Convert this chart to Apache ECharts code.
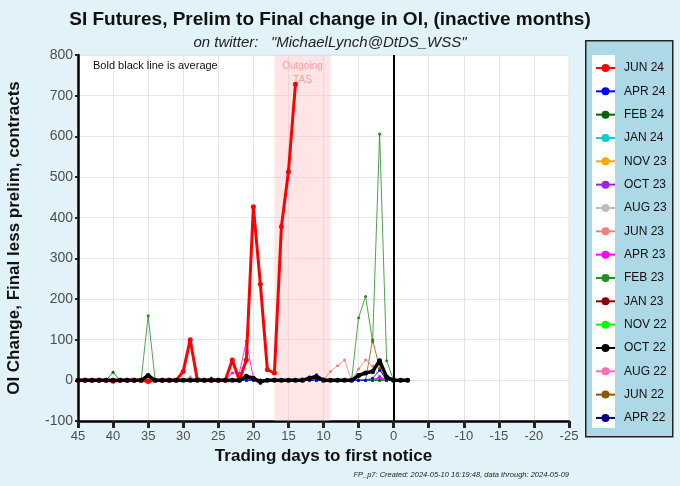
<!DOCTYPE html>
<html>
<head>
<meta charset="utf-8">
<script src="https://cdn.jsdelivr.net/npm/echarts@6/dist/echarts.min.js"></script>
<style>
html,body{margin:0;padding:0;background:#e1f3f8;}
#chart{width:680px;height:486px;}
</style>
</head>
<body>
<div id="chart"></div>
<script>
// Trading days to first notice (x categories)
var days = [45,44,43,42,41,40,39,38,37,36,35,34,33,32,31,30,29,28,27,26,25,24,23,22,21,20,19,18,17,16,15,14,13,12,11,10,9,8,7,6,5,4,3,2,1,0,-1,-2];

// Series values (aligned with days; JUN 24 ends at day 14)
var jun24 = [0,0,0,0,0, -2,0,0,0,0, -3,0,0,0,0, 22,100,2,0,0, 0,0,50,0,50, 427,236,26,18,378, 513,728];
var apr24 = [0,0,0,0,0, 0,0,0,0,0, 0,0,0,0,0, 0,0,0,0,0, 0,0,0,0,0, 0,0,0,0,0, 0,0,0,0,0, 0,0,0,0,0, 0,0,5,25,0, 0,0,0];
var feb24 = [0,0,0,0,0, 20,0,0,0,0, 0,0,0,0,0, 0,0,0,0,6, 0,0,0,0,0, 0,0,0,0,0, 0,0,0,0,0, 0,0,0,0,0, 0,0,0,0,0, 0,0,0];
var jan24 = [0,0,0,0,0, 0,0,0,0,0, 0,0,0,0,0, 0,0,0,0,0, 0,0,0,0,0, 0,0,0,0,0, 0,0,0,3,0, 0,0,0,0,0, 0,0,0,0,0, 0,0,0];
var nov23 = [0,0,0,0,0, 0,0,0,0,0, 0,0,0,0,0, 0,0,0,0,0, 0,0,0,0,0, 0,0,0,0,0, 0,0,0,0,0, 0,0,0,0,0, 0,0,5,0,0, 0,0,0];
var oct23 = [0,0,0,0,0, 0,0,0,0,0, 0,0,0,0,0, 0,0,0,0,0, 0,0,0,0,0, 0,0,0,0,0, 0,0,0,0,0, 0,0,0,0,0, 0,0,0,8,0, 0,0,0];
var aug23 = [0,0,0,0,0, 0,0,0,0,0, 0,0,0,0,0, 0,0,0,0,0, 0,0,0,0,0, 0,0,0,0,0, 0,0,0,0,0, 4,0,0,0,0, 0,0,0,0,0, 0,0,0];
var jun23 = [0,0,0,0,0, 0,0,0,0,0, 0,0,0,0,0, 0,8,0,0,0, 0,0,0,0,0, 0,0,0,0,0, 0,0,0,0,0, 0,22,36,50,0, 28,50,35,10,0, 0,0,0];
var apr23 = [0,0,0,0,0, 0,0,0,0,0, 0,0,0,0,0, 0,0,0,0,0, 0,0,18,18,96, 5,0,0,3,0, 0,0,0,0,0, 0,0,0,0,0, 0,0,0,3,0, 0,0,0];
var feb23 = [0,0,0,0,0, 0,0,0,0,0, 159,0,0,0,0, 0,0,0,0,0, 0,0,0,0,0, 0,0,0,0,0, 0,0,0,0,0, 0,0,0,0,0, 154,206,95,606,48, 0,0,0];
var jan23 = [0,0,0,0,0, 0,0,0,0,0, 0,0,0,0,0, 0,0,0,0,0, 0,0,0,0,0, 0,-8,0,0,0, 0,0,0,0,0, 0,0,0,0,0, 0,0,0,0,0, 0,0,0];
var nov22 = [0,0,0,0,0, 0,0,0,0,0, 0,0,0,0,0, 0,0,0,0,0, 0,0,0,0,0, 0,0,0,0,0, 0,0,0,0,0, 0,0,0,0,0, 0,0,0,0,0, 0,0,0];
var oct22 = [0,0,0,0,0, 0,0,0,0,0, 0,0,0,0,0, 0,0,0,0,0, 0,0,0,0,5, 0,0,0,0,0, 0,0,0,0,0, 0,0,0,0,0, 0,0,0,0,0, 0,0,0];
var aug22 = [0,0,0,0,0, 0,0,0,0,0, 0,0,0,0,0, 0,0,0,0,0, 0,0,0,0,0, 0,0,0,0,0, 0,0,0,0,0, 0,0,0,0,0, 0,0,0,2,0, 0,0,0];
var jun22 = [0,0,0,0,0, 0,0,0,0,0, 0,0,0,0,0, 0,0,0,0,0, 0,0,0,0,0, 0,0,0,0,0, 0,0,0,0,0, 0,0,0,0,0, 0,0,100,30,0, 0,0,0];
var apr22 = [0,0,0,0,0, 0,0,0,0,0, 0,0,0,0,0, 0,0,0,0,0, 0,0,0,0,0, 0,0,0,0,0, 0,0,3,8,14, 4,0,0,0,0, 0,0,0,8,0, 0,0,0];
var average = [0,0,0,0,0, 0,0,0,0,0, 12,0,0,0,0, 0,0,0,0,0, 0,0,0,0,10, 5,-3,0,0,0, 0,0,0,5,8, 0,0,0,0,0, 12,18,22,48,8, 0,0,0];

// Tick labels
var yTicks = {min:-100, max:800, step:100};
var xTicks = {min:-25, max:45, step:5};

var seriesNames = ['JUN 24','APR 24','FEB 24','JAN 24','NOV 23','OCT 23','AUG 23','JUN 23','APR 23','FEB 23','JAN 23','NOV 22','OCT 22','AUG 22','JUN 22','APR 22'];
var seriesValues = [jun24,apr24,feb24,jan24,nov23,oct23,aug23,jun23,apr23,feb23,jan23,nov22,oct22,aug22,jun22,apr22];
var seriesColors = ['#ff0000','#0000ff','#006400','#00cdcd','#ffa500','#a020f0','#bebebe','#f08080','#ff00ff','#228b22','#8b0000','#00ff00','#000000','#ff6eb4','#8b5a00','#000080'];

function pairs(vals){
  var out=[];
  for(var i=0;i<vals.length;i++){ out.push([days[i], vals[i]]); }
  return out;
}

var FONT = 'Liberation Sans, Arial, sans-serif';
var series = [];
// draw thin series first (reverse order), red bold, then average
for (var k = seriesNames.length-1; k >= 1; k--) {
  var s = {
    name: seriesNames[k], type:'line', data: pairs(seriesValues[k]),
    symbol:'circle', symbolSize:3, showSymbol:true,
    lineStyle:{width:0.8, color:seriesColors[k]},
    itemStyle:{color:seriesColors[k]},
    emphasis:{disabled:true}, animation:false, z:3
  };
  if (k === seriesNames.length-1) {
    s.markArea = {
      silent:true,
      itemStyle:{color:'rgba(255,190,190,0.40)'},
      label:{show:true, position:'insideTop', distance:4, color:'#ffa0a0', fontSize:10, fontFamily:FONT, lineHeight:14, formatter:'Outgoing\nTAS'},
      data:[[{xAxis:17},{xAxis:9}]]
    };
    s.markLine = {
      silent:true, symbol:['none','none'], animation:false,
      label:{show:false},
      lineStyle:{color:'#000', width:2, type:'solid'},
      data:[{xAxis:0}]
    };
  }
  series.push(s);
}
series.push({
  name:'JUN 24', type:'line', data:pairs(jun24), symbol:'circle', symbolSize:5,
  lineStyle:{width:3, color:'#ff0000'}, itemStyle:{color:'#ff0000'},
  emphasis:{disabled:true}, animation:false, z:4
});
series.push({
  name:'Average', type:'line', data:pairs(average), symbol:'circle', symbolSize:5,
  lineStyle:{width:3.5, color:'#000'}, itemStyle:{color:'#000'},
  emphasis:{disabled:true}, animation:false, z:5
});

var chart = echarts.init(document.getElementById('chart'), null, {renderer:'canvas'});
chart.setOption({
  backgroundColor:'#e1f3f8',
  animation:false,
  title:[
    {text:'SI Futures, Prelim to Final change in OI, (inactive months)', left:325, top:5, textAlign:'center',
     textStyle:{fontFamily:FONT, fontSize:19, fontWeight:'bold', color:'#111'}},
    {text:'on twitter:   "MichaelLynch@DtDS_WSS"', left:325, top:30, textAlign:'center',
     textStyle:{fontFamily:FONT, fontSize:15, fontStyle:'italic', fontWeight:'normal', color:'#222'}}
  ],
  graphic:[
    {type:'rect', left:585, top:40, shape:{width:87, height:396}, style:{fill:'#add8e6', stroke:'#222', lineWidth:1.5}, z:0},
    {type:'rect', left:592, top:55, shape:{width:23, height:373}, style:{fill:'#ffffff'}, z:1},
    {type:'text', left:93, top:60, style:{text:'Bold black line is average', fontFamily:FONT, fontSize:11, fill:'#111'}, z:10},
    {type:'text', right:111, top:471, style:{text:'FP_p7: Created: 2024-05-10 16:19:48, data through: 2024-05-09', fontFamily:FONT, fontSize:7.5, fontStyle:'italic', fill:'#222'}, z:10}
  ],
  legend:{
    data:seriesNames, orient:'vertical', left:590, top:57,
    itemWidth:19, itemHeight:10, itemGap:11.33,
    textStyle:{fontFamily:FONT, fontSize:12, color:'#111', padding:[0,0,0,4]},
    lineStyle:{width:2},
    selectedMode:false, z:5
  },
  grid:{left:78, right:111, top:55, bottom:65, show:true, backgroundColor:'#ffffff', borderColor:'#e2e2e2', borderWidth:1, containLabel:false, outerBoundsMode:'none'},
  xAxis:{
    type:'value', inverse:true, min:xTicks.min, max:xTicks.max, interval:xTicks.step,
    name:'Trading days to first notice', nameLocation:'middle', nameGap:26,
    nameTextStyle:{fontFamily:FONT, fontSize:17, fontWeight:'bold', color:'#111'},
    axisLine:{show:true, onZero:false, lineStyle:{color:'#000', width:2.5}},
    axisTick:{show:true, length:7, lineStyle:{color:'#222', width:3}},
    axisLabel:{fontFamily:FONT, fontSize:13, color:'#4d4d4d', margin:9},
    splitLine:{show:true, lineStyle:{color:'#e6e6e6', width:1}}
  },
  yAxis:{
    type:'value', min:yTicks.min, max:yTicks.max, interval:yTicks.step,
    name:'OI Change, Final less prelim, contracts', nameLocation:'middle', nameGap:55,
    nameTextStyle:{fontFamily:FONT, fontSize:17, fontWeight:'bold', color:'#111'},
    axisLine:{show:true, onZero:false, lineStyle:{color:'#000', width:2.5}},
    axisTick:{show:true, length:3, lineStyle:{color:'#222', width:2}},
    axisLabel:{fontFamily:FONT, fontSize:14, color:'#4d4d4d', margin:5},
    splitLine:{show:true, lineStyle:{color:'#e6e6e6', width:1}}
  },
  series:series
});
</script>
</body>
</html>
